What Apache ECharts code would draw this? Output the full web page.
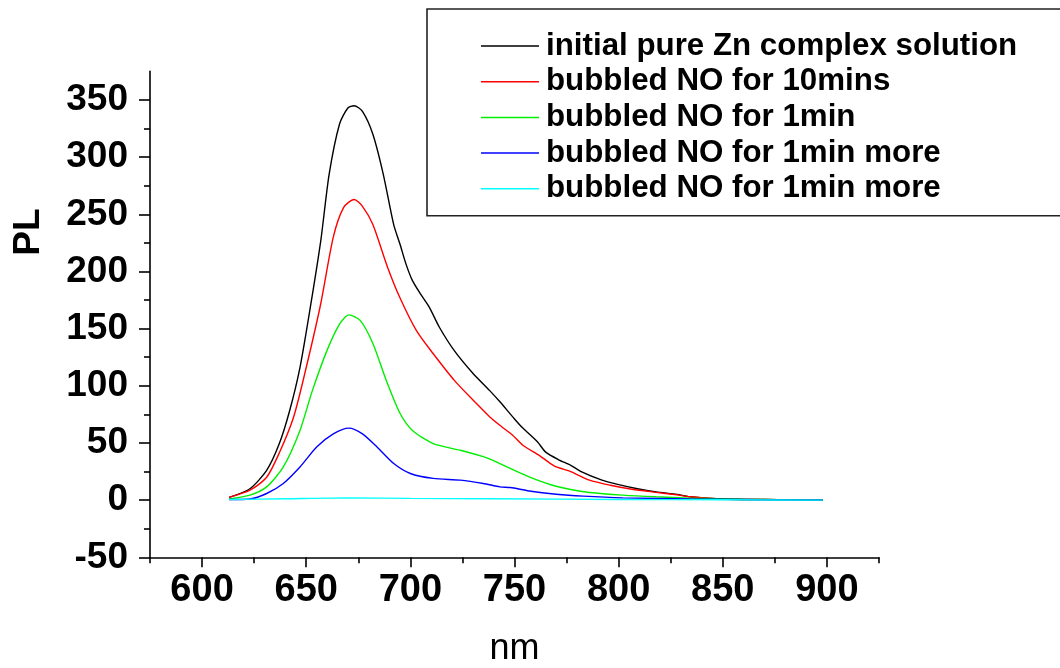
<!DOCTYPE html>
<html>
<head>
<meta charset="utf-8">
<script src="https://cdn.jsdelivr.net/npm/echarts@6/dist/echarts.min.js"></script>
<style>
  html, body { margin: 0; padding: 0; background: #fff; }
  #chart { width: 1060px; height: 668px; }
</style>
</head>
<body>
<div id="chart"></div>
<script>
// Photoluminescence spectra of the Zn complex solution before/after NO bubbling
const seriesNames = [
  'initial pure Zn complex solution',
  'bubbled NO for 10mins',
  'bubbled NO for 1min',
  'bubbled NO for 1min more',
  'bubbled NO for 1min more'
];
const seriesColors = ['#000000', '#ff0000', '#00ee00', '#0000ff', '#00ffff'];

const blackNm = [613, 623, 631, 637, 642, 647, 652, 657, 661, 666, 670, 673, 677, 682, 687, 692, 695, 698, 701, 705, 709, 714, 721, 730, 738, 743, 750, 754, 761, 765, 771, 777, 782, 792, 799, 809, 818, 828, 834, 850, 870, 898];
const blackPL = [2.4, 10, 26, 49, 78, 116, 169, 227, 285, 329, 343, 345, 340, 320, 285, 241, 224, 206, 192, 180, 169, 151, 131, 111, 96, 86, 71, 63, 51, 42, 35.5, 30.5, 25, 17.5, 14, 10, 7.2, 5, 3, 1, 0.5, 0];

const redNm = [613, 623, 631, 637, 644, 650, 657, 663, 668, 673, 677, 682, 689, 695, 703, 711, 721, 732, 738, 744, 749, 754, 762, 769, 777, 786, 796, 805, 817, 828, 834, 850, 870, 898];
const redPL = [2.4, 8.7, 20, 41, 73, 116, 172, 230, 256, 263, 257, 241, 204, 177, 148, 128, 105, 84, 73, 64, 57, 48, 39, 30, 25, 17.5, 13, 10, 7, 4.6, 3, 1, 0.5, 0];

const greenNm = [613, 623, 631, 639, 647, 653, 660, 666, 670.5, 676, 682, 689, 695, 701, 711, 724, 735, 738, 743, 748, 757, 767, 777, 786, 802, 818, 834, 860, 898];
const greenPL = [1, 4.4, 11.6, 29, 61, 96, 131, 154, 162, 157, 137, 102, 76, 61, 49.5, 43.6, 38, 36, 32, 27.7, 20.3, 13.7, 9.3, 6.7, 4.4, 2.9, 1.8, 0.8, 0];

const blueNm = [613, 623, 631, 639, 647, 655, 663, 670.5, 677, 684, 692, 700, 711, 724, 735, 743, 748, 757, 770, 783, 802, 834, 860, 898];
const bluePL = [0.5, 1, 5.8, 14.6, 29, 46.5, 58, 63, 58, 46.5, 32, 23.3, 19, 17.5, 14.6, 11.6, 11, 8, 5.2, 3.5, 2, 1, 0.5, 0];

const cyanNm = [613, 640, 670, 700, 740, 800, 850, 898];
const cyanPL = [0.5, 1.2, 2, 1.5, 1.2, 0.6, 0.3, 0];

const xMajorTicks = [600, 650, 700, 750, 800, 850, 900];
const xMinorTicks = [575, 625, 675, 725, 775, 825, 875, 925];
const yMajorTicks = [-50, 0, 50, 100, 150, 200, 250, 300, 350];
const yMinorTicks = [-25, 25, 75, 125, 175, 225, 275, 325];

const xRange = [575, 925];
const yRange = [-50, 375];

const seriesX = [blackNm, redNm, greenNm, blueNm, cyanNm];
const seriesY = [blackPL, redPL, greenPL, bluePL, cyanPL];

const FONT = '"Liberation Sans", Arial, Helvetica, sans-serif';
const axisLineStyle = { color: '#000', width: 1.6 };

function pairs(xs, ys) { return xs.map((x, i) => [x, ys[i]]); }

const chart = echarts.init(document.getElementById('chart'), null, { renderer: 'canvas' });

const option = {
  backgroundColor: '#ffffff',
  animation: false,
  grid: { left: 150, right: 181, top: 71.4, bottom: 110.7, containLabel: false, outerBoundsMode: 'none' },
  xAxis: [
    {
      type: 'value', min: xRange[0], max: xRange[1],
      name: 'nm', nameLocation: 'middle', nameGap: 74,
      nameTextStyle: { fontFamily: FONT, fontSize: 36, color: '#000', fontWeight: 'normal' },
      axisLine: { show: true, onZero: false, lineStyle: axisLineStyle },
      axisTick: { show: true, inside: false, length: 10, lineStyle: axisLineStyle, customValues: xMajorTicks },
      axisLabel: { show: true, margin: 14, fontFamily: FONT, fontSize: 38, fontWeight: 'bold', color: '#000', customValues: xMajorTicks },
      splitLine: { show: false }
    },
    {
      // minor ticks between the labelled ones
      type: 'value', min: xRange[0], max: xRange[1], position: 'bottom',
      axisLine: { show: false, onZero: false },
      axisTick: { show: true, inside: false, length: 6, lineStyle: axisLineStyle, customValues: xMinorTicks },
      axisLabel: { show: false },
      splitLine: { show: false }
    }
  ],
  yAxis: [
    {
      type: 'value', min: yRange[0], max: yRange[1],
      axisLine: { show: true, onZero: false, lineStyle: axisLineStyle },
      axisTick: { show: true, inside: false, length: 11, lineStyle: axisLineStyle, customValues: yMajorTicks },
      axisLabel: { show: true, margin: 22, fontFamily: FONT, fontSize: 37, fontWeight: 'bold', color: '#000', customValues: yMajorTicks },
      splitLine: { show: false }
    },
    {
      type: 'value', min: yRange[0], max: yRange[1], position: 'left',
      axisLine: { show: false, onZero: false },
      axisTick: { show: true, inside: false, length: 6, lineStyle: axisLineStyle, customValues: yMinorTicks },
      axisLabel: { show: false },
      splitLine: { show: false }
    }
  ],
  legend: {
    orient: 'vertical',
    left: 427, top: 9,
    padding: [21.5, 60, 11.5, 54],
    icon: 'rect',
    itemWidth: 58, itemHeight: 1.5, itemGap: 4.7,
    backgroundColor: '#fff',
    borderColor: '#222', borderWidth: 1.6,
    textStyle: { fontFamily: FONT, fontSize: 31.3, fontWeight: 'bold', color: '#000', lineHeight: 31, padding: [0, 0, 0, 2] },
    data: seriesNames.map((n, i) => ({ name: n + '\u200b'.repeat(i) }))
  },
  series: seriesNames.map((n, i) => ({
    name: n + '\u200b'.repeat(i),
    type: 'line',
    xAxisIndex: 0, yAxisIndex: 0,
    data: pairs(seriesX[i], seriesY[i]),
    symbol: 'none',
    smooth: 0.25,
    lineStyle: { color: seriesColors[i], width: 1.4 },
    itemStyle: { color: seriesColors[i] },
    z: 2 + i
  })),
  graphic: [
    {
      type: 'text',
      x: 29, y: 232,
      rotation: Math.PI / 2,
      style: { text: 'PL', fontFamily: FONT, fontSize: 37, fontWeight: 'bold', fill: '#000', align: 'center', verticalAlign: 'middle' }
    }
  ]
};

chart.setOption(option);
</script>
</body>
</html>
